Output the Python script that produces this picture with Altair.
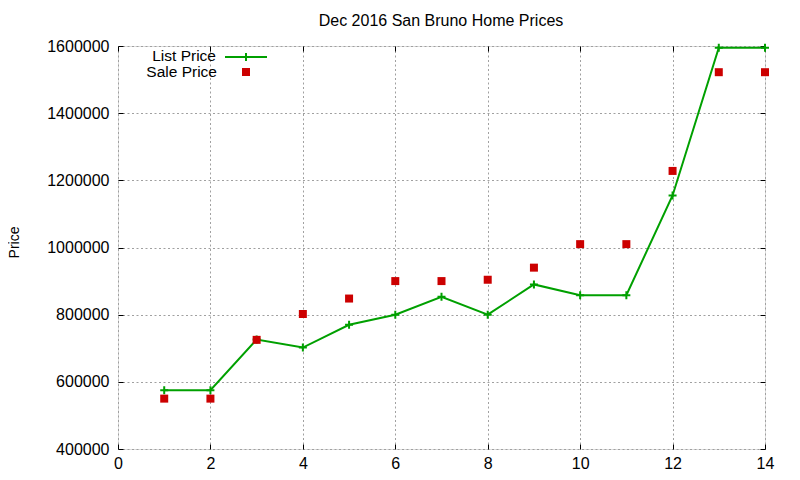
import altair as alt
import pandas as pd

# ---- data ----
months = [1, 2, 3, 4, 5, 6, 7, 8, 9, 10, 11, 12, 13, 14]
list_price = [575000, 575000, 726000, 702000, 770000, 800000, 853000, 800000,
              890000, 858000, 858000, 1155000, 1595000, 1595000]
sale_price = [550000, 550000, 725000, 802000, 848000, 900000, 900000, 904000,
              940000, 1010000, 1010000, 1228000, 1522000, 1522000]
x_ticks = [0, 2, 4, 6, 8, 10, 12, 14]
y_ticks = [400000, 600000, 800000, 1000000, 1200000, 1400000, 1600000]
legend_labels = ["List Price", "Sale Price"]
title_text = ["Dec 2016 San Bruno Home Prices"]
y_title = ["Price"]

df = pd.DataFrame({"x": months, "list": list_price, "sale": sale_price})

FONT = "Liberation Sans"
FS = 16
LFS = 15.5
GREEN = "#00a000"
RED = "#cc0000"
PLUS = "M-1,0H1M0,-1V1"

W, H = 647, 403

xs = alt.Scale(domain=[0, 14], nice=False, zero=False)
ys = alt.Scale(domain=[400000, 1600000], nice=False, zero=False)

common = dict(offset=-5, tickSize=5, domain=False, tickColor="#000000",
              tickWidth=1, labelFont=FONT, labelFontSize=FS,
              labelColor="#000000", labelFlush=False)

x_bottom = alt.Axis(orient="bottom", values=x_ticks, grid=True,
                    gridColor="#a0a0a0", gridDash=[2, 2.5], gridWidth=1,
                    labelPadding=6, title=None, **common)
y_left = alt.Axis(orient="left", values=y_ticks, grid=True, format="d",
                  gridColor="#a0a0a0", gridDash=[2, 2.5], gridWidth=1,
                  labelPadding=9, title=None, **common)
x_top = alt.Axis(orient="top", values=x_ticks, grid=False, labels=False,
                 title=None, **common)
y_right = alt.Axis(orient="right", values=y_ticks, grid=False, labels=False,
                   title=None, **common)

line = alt.Chart(df).mark_line(color=GREEN, strokeWidth=2).encode(
    x=alt.X("x:Q", scale=xs, axis=x_bottom),
    y=alt.Y("list:Q", scale=ys, axis=y_left),
)
plus = alt.Chart(df).mark_point(shape=PLUS, size=64, filled=False,
                                color=GREEN, strokeWidth=2, opacity=1).encode(
    x=alt.X("x:Q", scale=xs, axis=None),
    y=alt.Y("list:Q", scale=ys, axis=None),
)
squares = alt.Chart(df).mark_square(size=64, color=RED, opacity=1).encode(
    x=alt.X("x:Q", scale=xs, axis=x_top),
    y=alt.Y("sale:Q", scale=ys, axis=y_right),
)

# ---- titles ----
title = alt.Chart(pd.DataFrame({"t": title_text})).mark_text(
    align="center", baseline="middle", font=FONT, fontSize=FS, color="#000000"
).encode(x=alt.value(323), y=alt.value(-25), text="t:N")
ytitle = alt.Chart(pd.DataFrame({"t": y_title})).mark_text(
    align="center", baseline="middle", font=FONT, fontSize=14,
    color="#000000", angle=270
).encode(x=alt.value(-103), y=alt.value(196.5), text="t:N")

# ---- legend (gnuplot style: text left, sample right) ----
leg_df = pd.DataFrame({"label": legend_labels})
leg_text1 = alt.Chart(leg_df.iloc[[0]]).mark_text(
    align="right", baseline="middle", font=FONT, fontSize=LFS, color="#000000"
).encode(x=alt.value(98), y=alt.value(9.5), text="label:N")
leg_text2 = alt.Chart(leg_df.iloc[[1]]).mark_text(
    align="right", baseline="middle", font=FONT, fontSize=LFS, color="#000000"
).encode(x=alt.value(99), y=alt.value(25.5), text="label:N")
leg_line = alt.Chart(leg_df.iloc[[0]]).mark_rule(color=GREEN, strokeWidth=2).encode(
    x=alt.value(107), x2=alt.value(149), y=alt.value(11))
leg_plus = alt.Chart(leg_df.iloc[[0]]).mark_point(
    shape=PLUS, size=64, filled=False, color=GREEN, strokeWidth=2, opacity=1
).encode(x=alt.value(128), y=alt.value(11))
leg_sq = alt.Chart(leg_df.iloc[[1]]).mark_square(size=64, color=RED, opacity=1).encode(
    x=alt.value(128), y=alt.value(26))

chart = alt.layer(
    line, plus, squares, title, ytitle,
    leg_text1, leg_text2, leg_line, leg_plus, leg_sq
).resolve_axis(x="independent", y="independent").properties(
    width=W, height=H,
    autosize=alt.AutoSizeParams(type="none"),
    padding={"left": 110, "top": 38, "right": 27, "bottom": 23},
).configure_view(stroke="#000000", strokeWidth=1).configure(
    font=FONT, background="white")

chart.save("out.html", embed_options={"renderer": "svg", "actions": False})
